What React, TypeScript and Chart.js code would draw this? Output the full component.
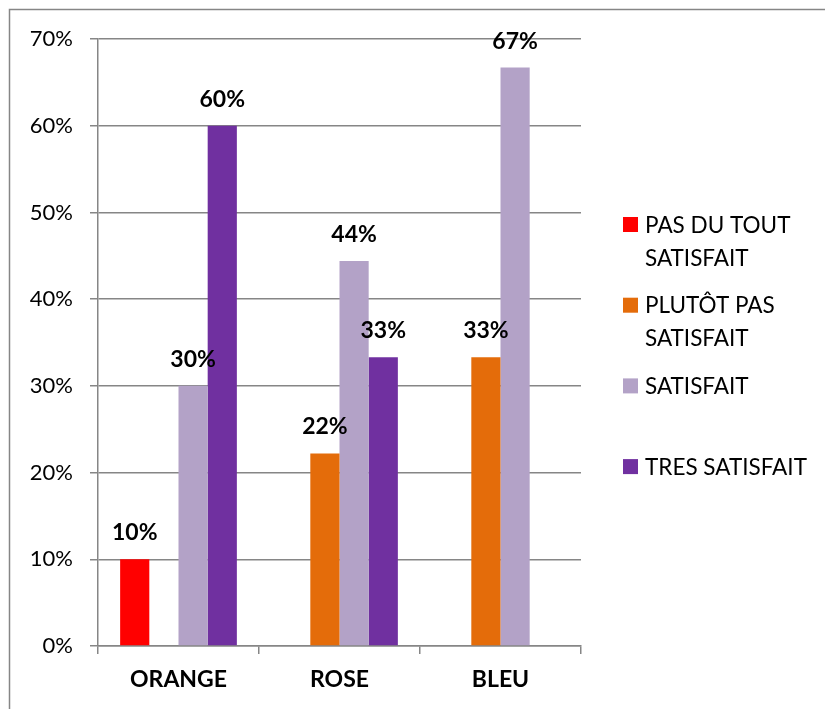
import React, { useEffect, useRef } from "react";
import { Chart, registerables } from "chart.js";

Chart.register(...registerables);

const categories = ["ORANGE", "ROSE", "BLEU"];
const seriesNames = [
  ["PAS DU TOUT", "SATISFAIT"],
  ["PLUTÔT PAS", "SATISFAIT"],
  ["SATISFAIT"],
  ["TRES SATISFAIT"],
];
const pasDuTout = [10, 0, 0];
const plutotPas = [0, 22.2, 33.3];
const satisfait = [30, 44.4, 66.7];
const tresSatisfait = [60, 33.3, 0];
const colors = ["#FF0000", "#E46C0A", "#B3A2C7", "#7030A0"];
const yTicks = [0, 10, 20, 30, 40, 50, 60, 70];

const FONT = "Lato";
const GRID = "#868686";

const frame = {
  id: "frame",
  beforeDraw(chart: any) {
    const ctx = chart.ctx;
    ctx.save();
    ctx.fillStyle = "#ffffff";
    ctx.fillRect(0, 0, chart.width, chart.height);
    ctx.strokeStyle = GRID;
    ctx.lineWidth = 1.5;
    ctx.beginPath();
    ctx.moveTo(9.5, chart.height + 5);
    ctx.lineTo(9.5, 9.5);
    ctx.lineTo(chart.width + 5, 9.5);
    ctx.stroke();
    ctx.restore();
  },
};

const valueLabels = {
  id: "valueLabels",
  afterDatasetsDraw(chart: any) {
    const ctx = chart.ctx;
    ctx.save();
    ctx.font = `bold 23px ${FONT}`;
    ctx.fillStyle = "#000000";
    ctx.textAlign = "center";
    ctx.textBaseline = "alphabetic";
    chart.data.datasets.forEach((ds: any, i: number) => {
      const meta = chart.getDatasetMeta(i);
      meta.data.forEach((el: any, j: number) => {
        const v = ds.data[j];
        if (!v) return;
        ctx.fillText(Math.round(v) + "%", el.x, el.y - 19);
      });
    });
    ctx.restore();
  },
};

const sideLegend = {
  id: "sideLegend",
  afterDraw(chart: any) {
    const ctx = chart.ctx;
    ctx.save();
    ctx.font = `22.5px ${FONT}`;
    ctx.fillStyle = "#000000";
    ctx.textBaseline = "middle";
    ctx.textAlign = "left";
    const x0 = 623;
    const startY = 224.5;
    const step = 80.7;
    const lineH = 33;
    chart.data.datasets.forEach((ds: any, i: number) => {
      const cy = startY + i * step;
      ctx.fillStyle = ds.backgroundColor;
      ctx.fillRect(x0, cy - 7.5, 15, 15);
      ctx.fillStyle = "#000000";
      const lines = seriesNames[i];
      lines.forEach((ln, k) => {
        ctx.fillText(ln, x0 + 22, cy + 1 + k * lineH);
      });
    });
    ctx.restore();
  },
};

export default function App() {
  const ref = useRef<HTMLCanvasElement | null>(null);
  useEffect(() => {
    if (!ref.current) return;
    const data = [pasDuTout, plutotPas, satisfait, tresSatisfait];
    const chart = new Chart(ref.current, {
      type: "bar",
      data: {
        labels: categories,
        datasets: data.map((d, i) => ({
          label: seriesNames[i].join(" "),
          data: d,
          backgroundColor: colors[i],
          borderWidth: 0,
          categoryPercentage: 0.725,
          barPercentage: 1,
        })),
      },
      options: {
        animation: false,
        responsive: false,
        maintainAspectRatio: false,
        layout: { padding: { left: 0, top: 39, right: 244, bottom: 0 } },
        plugins: {
          legend: { display: false },
          tooltip: { enabled: false },
        },
        scales: {
          x: {
            grid: {
              display: true,
              drawOnChartArea: false,
              drawTicks: true,
              tickLength: 8,
              color: GRID,
              lineWidth: 1.5,
              offset: true,
            },
            border: { display: true, color: GRID, width: 1.5 },
            ticks: {
              color: "#000000",
              font: { family: FONT, size: 23, weight: "bold" },
              padding: 12,
            },
            afterFit: (s: any) => {
              s.height = 63;
            },
          },
          y: {
            min: 0,
            max: 70,
            afterBuildTicks: (s: any) => {
              s.ticks = yTicks.map((v) => ({ value: v }));
            },
            grid: {
              color: GRID,
              lineWidth: 1.5,
              drawTicks: true,
              tickLength: 8,
            },
            border: { display: true, color: GRID, width: 1.5 },
            ticks: {
              color: "#000000",
              font: { family: FONT, size: 22 },
              padding: 17,
              callback: (v: any) => v + "%",
            },
            afterFit: (s: any) => {
              s.width = 98;
            },
          },
        },
      },
      plugins: [frame, valueLabels, sideLegend],
    });
    return () => chart.destroy();
  }, []);
  return (
    <div style={{ position: "absolute", left: 0, top: 0, width: 825, height: 709 }}>
      <canvas ref={ref} width={825} height={709} style={{ display: "block" }} />
    </div>
  );
}
